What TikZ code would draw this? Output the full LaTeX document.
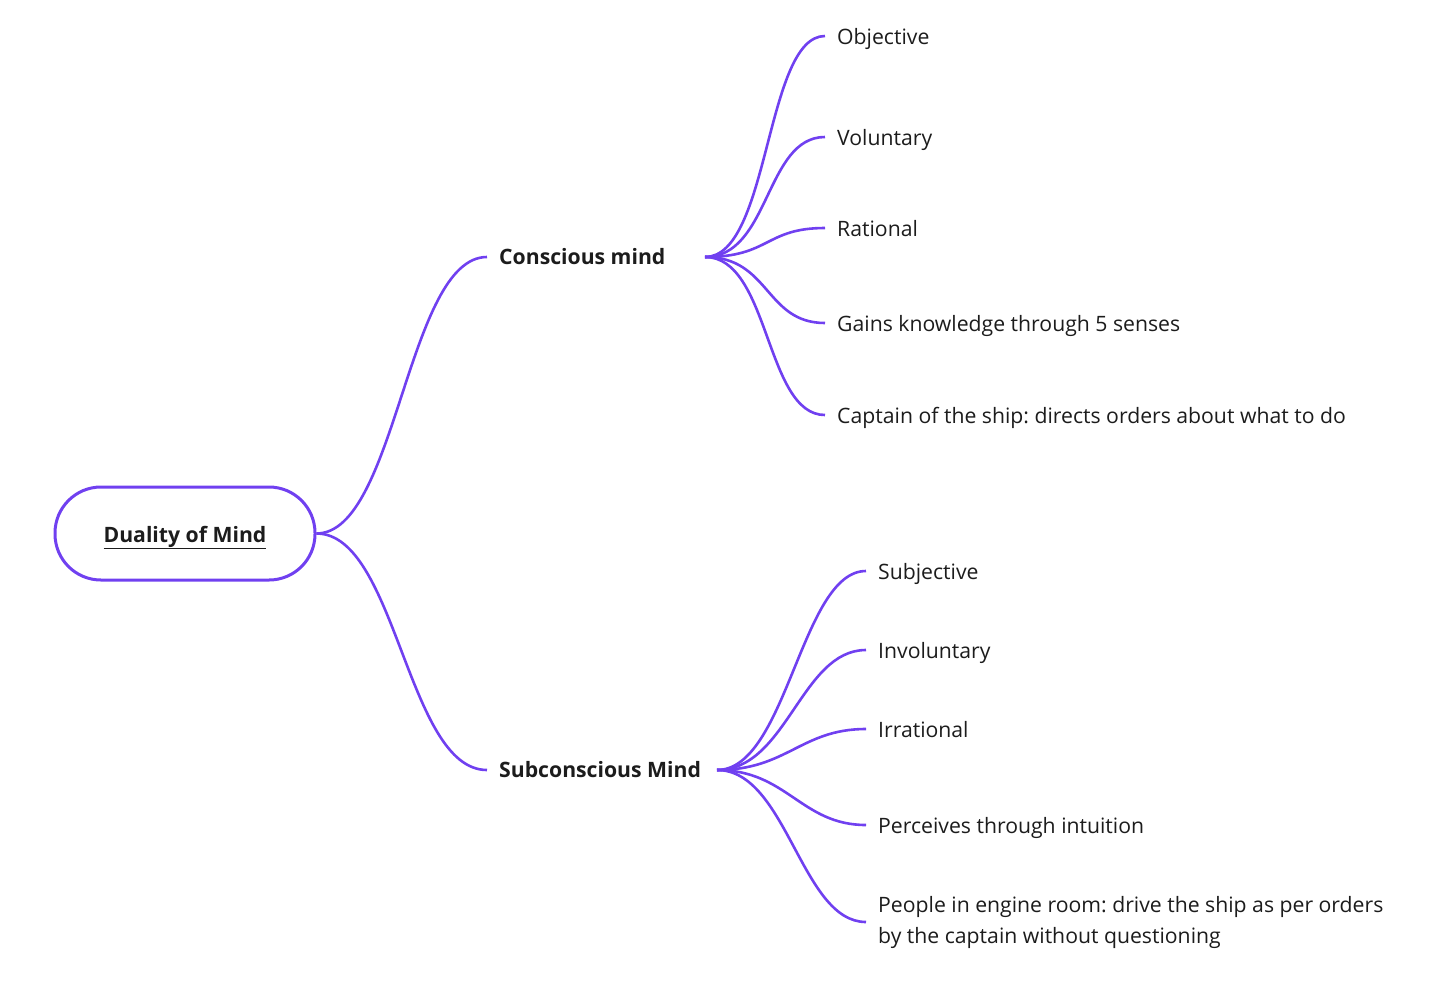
\documentclass[tikz,border=0pt]{standalone}
\usepackage{fontspec}
\setmainfont{Open Sans}
\frenchspacing
\definecolor{mindpurple}{HTML}{7040F0}
\definecolor{mindtext}{HTML}{1C1C1C}

\begin{document}
\begin{tikzpicture}[x=1pt,y=-1pt,
    font=\fontsize{21.2}{31}\selectfont,
    text=mindtext,
    rootbox/.style={draw=mindpurple, line width=3pt, rounded corners=46pt,
        minimum width=260pt, minimum height=93pt, text height=22pt, text depth=5pt,
        font=\fontsize{21.2}{31}\selectfont\bfseries},
    branch/.style={anchor=west, inner xsep=12pt, text height=19pt, text depth=5pt,
        font=\fontsize{21.2}{31}\selectfont\bfseries},
    leaf/.style={anchor=west, inner xsep=12pt, text height=22pt, text depth=5pt, align=left},
    link/.style={draw=mindpurple, line width=2.6pt}]
    \useasboundingbox (0,0) rectangle (1448,986);

    \node[rootbox] (root) at (185,533.5) {\underline{Duality of Mind}};

    \node[branch] (cm) at (487,257) {Conscious mind};
    \node[branch] (sm) at (487,770) {Subconscious Mind};
    \coordinate (cmhub) at (705,257);
    \coordinate (smhub) at (717,770);

    % conscious side
    \node[leaf] (obj) at (825,36) {Objective};
    \node[leaf] (vol) at (825,137) {Voluntary};
    \node[leaf] (rat) at (825,228) {Rational};
    \node[leaf] (gain) at (825,323) {Gains knowledge through 5 senses};
    \node[leaf] (capt) at (825,415) {Captain of the ship: directs orders about what to do};

    % subconscious side
    \node[leaf] (subj) at (866,571) {Subjective};
    \node[leaf] (invol) at (866,650) {Involuntary};
    \node[leaf] (irr) at (866,729) {Irrational};
    \node[leaf] (perc) at (866,825) {Perceives through intuition};
    \node[leaf, text height=, text depth=] (engine) at (866,922) {People in engine room: drive the ship as per orders\\by the captain without questioning};

    \draw[link] (root.east) .. controls +(80,0) and +(-80,0) .. (cm.west);
    \draw[link] (root.east) .. controls +(80,0) and +(-80,0) .. (sm.west);

    \foreach \leafname in {obj,vol,rat,gain,capt}
        \draw[link] (cmhub) .. controls +(65,0) and +(-60,0) .. (\leafname.west);
    \foreach \leafname in {subj,invol,irr,perc,engine}
        \draw[link] (smhub) .. controls +(70,0) and +(-65,0) .. (\leafname.west);

\end{tikzpicture}
\end{document}
